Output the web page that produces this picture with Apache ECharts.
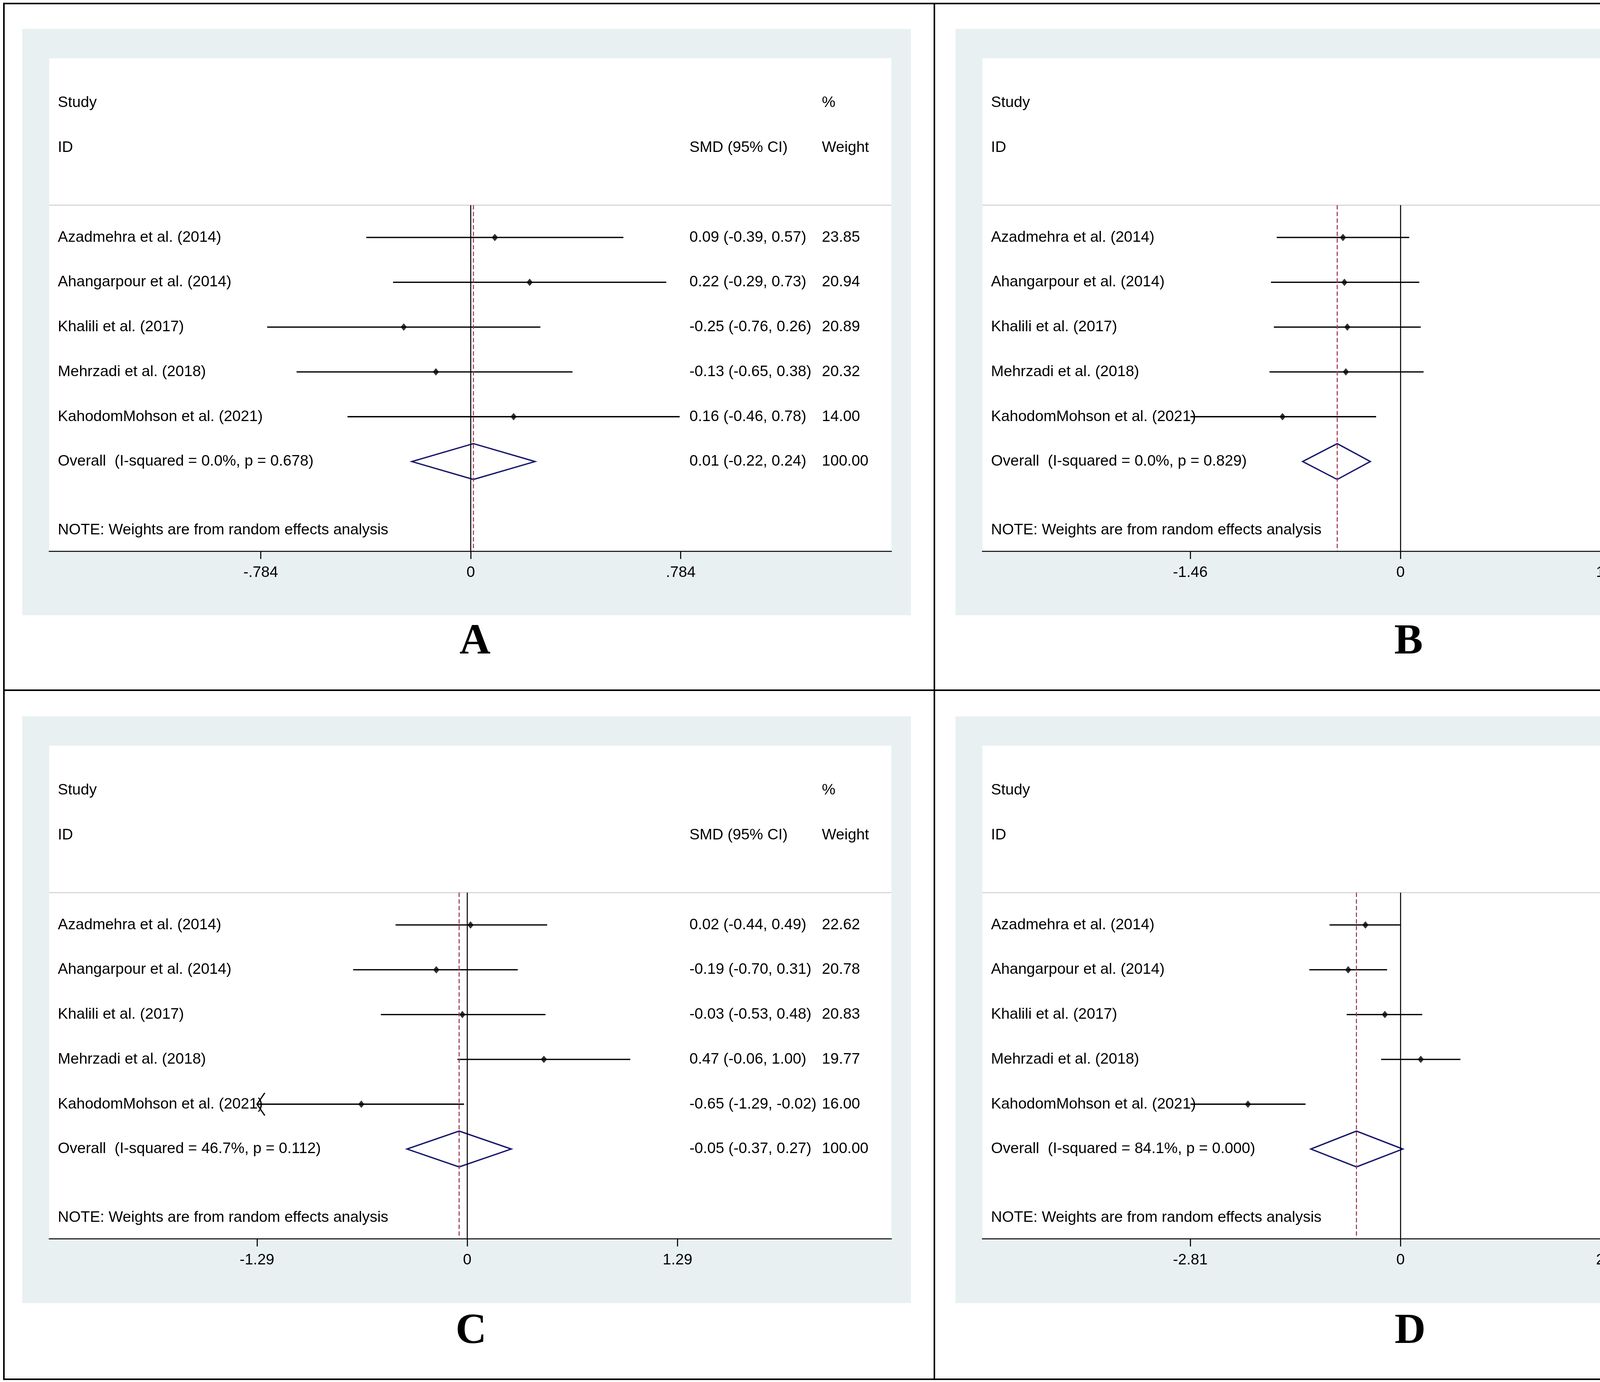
<!DOCTYPE html>
<html>
<head>
<meta charset="utf-8">
<script src="https://cdn.jsdelivr.net/npm/echarts@6/dist/echarts.min.js"></script>
<style>
  html, body { margin: 0; padding: 0; background: #fff; }
  #main { width: 4796px; height: 3538px; }
</style>
</head>
<body>
<div id="main"></div>
<script>
// studies are the same in all four panels
const studies = ["Azadmehra et al. (2014)", "Ahangarpour et al. (2014)", "Khalili et al. (2017)",
                 "Mehrzadi et al. (2018)", "KahodomMohson et al. (2021)"];

// panel A
const estA = [0.09, 0.22, -0.25, -0.13, 0.16];
const loA = [-0.39, -0.29, -0.76, -0.65, -0.46];
const hiA = [0.57, 0.73, 0.26, 0.38, 0.78];
const wtA = [23.85, 20.94, 20.89, 20.32, 14.00];
const overallA = [0.01, -0.22, 0.24];
const hetA = ["0.0%", "0.678"];
const tickA = 0.784;
const tickLabelsA = ["-.784", "0", ".784"];
const arrowA = [0, 0, 0, 0, 0];

// panel B
const estB = [-0.40, -0.39, -0.37, -0.38, -0.82];
const loB = [-0.86, -0.90, -0.88, -0.91, -1.46];
const hiB = [0.06, 0.13, 0.14, 0.16, -0.17];
const wtB = [25.89, 21.01, 21.04, 18.93, 13.13];
const overallB = [-0.44, -0.68, -0.21];
const hetB = ["0.0%", "0.829"];
const tickB = 1.46;
const tickLabelsB = ["-1.46", "0", "1.46"];
const arrowB = [0, 0, 0, 0, 0];

// panel C
const estC = [0.02, -0.19, -0.03, 0.47, -0.65];
const loC = [-0.44, -0.70, -0.53, -0.06, -1.29];
const hiC = [0.49, 0.31, 0.48, 1.00, -0.02];
const wtC = [22.62, 20.78, 20.83, 19.77, 16.00];
const overallC = [-0.05, -0.37, 0.27];
const hetC = ["46.7%", "0.112"];
const tickC = 1.29;
const tickLabelsC = ["-1.29", "0", "1.29"];
const arrowC = [0, 0, 0, 0, 1];

// panel D
const estD = [-0.47, -0.70, -0.21, 0.27, -2.04];
const loD = [-0.95, -1.22, -0.72, -0.26, -2.81];
const hiD = [-0.00, -0.18, 0.29, 0.80, -1.27];
const wtD = [21.04, 20.48, 20.64, 20.42, 17.41];
const overallD = [-0.59, -1.20, 0.03];
const hetD = ["84.1%", "0.000"];
const tickD = 2.81;
const tickLabelsD = ["-2.81", "0", "2.81"];
const arrowD = [0, 0, 0, 0, 0];

const panelLetters = ["A", "B", "C", "D"];

// layout
const SANS = '"Liberation Sans", Arial, sans-serif';
const rowY = [7, 6, 5, 4, 3];
const SEP_Y = 7.72;
const NOTE_Y = 0.47;
const gridW = 2156, gridH = 1262;

// span: axis range in multiples of the tick value
const panels = [
    { left: 126, top: 149, span: [-2.007, 2.003], est: estA, lo: loA, hi: hiA, wt: wtA, overall: overallA, het: hetA, tick: tickA, labels: tickLabelsA, arrow: arrowA },
    { left: 2515, top: 149, span: [-1.989, 2.017], est: estB, lo: loB, hi: hiB, wt: wtB, overall: overallB, het: hetB, tick: tickB, labels: tickLabelsB, arrow: arrowB },
    { left: 126, top: 1909, span: [-1.988, 2.017], est: estC, lo: loC, hi: hiC, wt: wtC, overall: overallC, het: hetC, tick: tickC, labels: tickLabelsC, arrow: arrowC },
    { left: 2515, top: 1909, span: [-1.989, 2.017], est: estD, lo: loD, hi: hiD, wt: wtD, overall: overallD, het: hetD, tick: tickD, labels: tickLabelsD, arrow: arrowD },
];

function fmt(v) {
    return (Object.is(v, -0) ? "-" : "") + v.toFixed(2);
}
function ciText(e, l, h) {
    return fmt(e) + " (" + fmt(l) + ", " + fmt(h) + ")";
}

const grids = [], xAxes = [], yAxes = [], series = [];

panels.forEach((p, gi) => {
    grids.push({
        left: p.left, top: p.top, width: gridW, height: gridH,
        show: true, backgroundColor: "#fff", borderWidth: 0
    });
    const ticks = [-p.tick, 0, p.tick];
    xAxes.push({
        gridIndex: gi, type: "value",
        min: p.span[0] * p.tick, max: p.span[1] * p.tick,
        axisLine: { lineStyle: { color: "#000", width: 2.7 } },
        axisTick: { customValues: ticks, length: 20, lineStyle: { color: "#000", width: 2.7 } },
        axisLabel: {
            customValues: ticks, margin: 36, color: "#000", fontSize: 39, fontFamily: SANS,
            formatter: v => p.labels[ticks.findIndex(t => Math.abs(t - v) < 1e-9)]
        },
        splitLine: { show: false }
    });
    yAxes.push({ gridIndex: gi, type: "value", min: 0, max: 11, show: false });

    // header separator
    series.push({
        type: "custom", xAxisIndex: gi, yAxisIndex: gi, silent: true, z: 1,
        data: [[0, SEP_Y]],
        renderItem: (params, api) => {
            const cs = params.coordSys;
            const y = api.coord([0, api.value(1)])[1];
            return { type: "line", shape: { x1: cs.x, y1: y, x2: cs.x + cs.width, y2: y },
                     style: { stroke: "#c6c6c6", lineWidth: 2 } };
        }
    });

    // confidence intervals
    series.push({
        type: "custom", xAxisIndex: gi, yAxisIndex: gi, silent: true, z: 2,
        data: studies.map((s, i) => [p.lo[i], p.hi[i], rowY[i], p.arrow[i]]),
        renderItem: (params, api) => {
            const a = api.coord([api.value(0), api.value(2)]);
            const b = api.coord([api.value(1), api.value(2)]);
            const st = { stroke: "#000", lineWidth: 3.4, fill: "none" };
            const kids = [{ type: "line", shape: { x1: a[0], y1: a[1], x2: b[0], y2: b[1] }, style: st }];
            if (api.value(3)) {
                kids.push({ type: "polyline",
                            shape: { points: [[a[0] + 20, a[1] - 29], [a[0], a[1]], [a[0] + 20, a[1] + 29]] },
                            style: { stroke: "#000", lineWidth: 3.2, fill: "none" } });
            }
            return { type: "group", children: kids };
        }
    });

    // point estimates
    series.push({
        type: "scatter", xAxisIndex: gi, yAxisIndex: gi, silent: true, z: 4,
        symbol: "diamond", symbolSize: [16, 19],
        itemStyle: { color: "#000" },
        data: studies.map((s, i) => [p.est[i], rowY[i]])
    });

    // pooled estimate diamond
    series.push({
        type: "custom", xAxisIndex: gi, yAxisIndex: gi, silent: true, z: 3,
        data: [[p.overall[0], p.overall[1], p.overall[2], 2]],
        renderItem: (params, api) => {
            const e = api.value(0), l = api.value(1), h = api.value(2), y = api.value(3);
            const pts = [api.coord([l, y]), api.coord([e, y + 0.4]), api.coord([h, y]), api.coord([e, y - 0.4])];
            return { type: "polygon", shape: { points: pts },
                     style: { fill: "none", stroke: "#15156b", lineWidth: 3.4 } };
        }
    });

    // null line and pooled-estimate line
    series.push({
        type: "custom", xAxisIndex: gi, yAxisIndex: gi, silent: true, z: 5,
        data: [[0, SEP_Y], [p.overall[0], SEP_Y]],
        renderItem: (params, api) => {
            const top = api.coord([api.value(0), api.value(1)]);
            const bot = api.coord([api.value(0), 0]);
            const dashed = params.dataIndex === 1;
            return { type: "line", shape: { x1: top[0], y1: top[1], x2: bot[0], y2: bot[1] },
                     style: dashed ? { stroke: "#9b3a4c", lineWidth: 2.7, lineDash: [11, 6] }
                                   : { stroke: "#000", lineWidth: 2.6 } };
        }
    });

    // table text
    series.push({
        type: "custom", xAxisIndex: gi, yAxisIndex: gi, silent: true, z: 6,
        data: [[0, 0]],
        renderItem: (params, api) => {
            const cs = params.coordSys;
            const xs = { label: cs.x + 22, smd: cs.x + 1639, wt: cs.x + 1978 };
            const kids = [];
            const add = (col, yv, text) => kids.push({
                type: "text",
                style: { x: xs[col], y: api.coord([0, yv])[1], text: text, fill: "#000",
                         font: "39px " + SANS, align: "left", verticalAlign: "middle" }
            });
            add("label", 10, "Study");
            add("wt", 10, "%");
            add("label", 9, "ID");
            add("smd", 9, "SMD (95% CI)");
            add("wt", 9, "Weight");
            studies.forEach((s, i) => {
                add("label", rowY[i], s);
                add("smd", rowY[i], ciText(p.est[i], p.lo[i], p.hi[i]));
                add("wt", rowY[i], p.wt[i].toFixed(2));
            });
            add("label", 2, "Overall  (I-squared = " + p.het[0] + ", p = " + p.het[1] + ")");
            add("smd", 2, ciText(p.overall[0], p.overall[1], p.overall[2]));
            add("wt", 2, "100.00");
            add("label", NOTE_Y, "NOTE: Weights are from random effects analysis");
            return { type: "group", children: kids };
        }
    });
});

// panel backgrounds, letters and frame
const bgPanels = [[57, 74, 2275, 1501], [2446, 74, 2281, 1501], [57, 1834, 2275, 1502], [2446, 1834, 2281, 1502]];
const letterPos = [[1216, 1645], [3606, 1645], [1206, 3410], [3610, 3410]];
const graphics = [];
bgPanels.forEach(r => graphics.push({
    type: "rect", z: -10, shape: { x: r[0], y: r[1], width: r[2], height: r[3] },
    style: { fill: "#e8f0f2" }, silent: true
}));
letterPos.forEach((pt, i) => graphics.push({
    type: "text", x: pt[0], y: pt[1], silent: true,
    style: { text: panelLetters[i], font: 'bold 110px "Liberation Serif", "Times New Roman", serif',
             fill: "#000", align: "center", verticalAlign: "middle" }
}));
graphics.push({ type: "rect", silent: true, shape: { x: 10, y: 9, width: 4779, height: 3522 },
                style: { fill: "none", stroke: "#000", lineWidth: 4 } });
graphics.push({ type: "line", silent: true, shape: { x1: 2392, y1: 9, x2: 2392, y2: 3531 },
                style: { stroke: "#000", lineWidth: 4 } });
graphics.push({ type: "line", silent: true, shape: { x1: 10, y1: 1767, x2: 4789, y2: 1767 },
                style: { stroke: "#000", lineWidth: 4 } });

const chart = echarts.init(document.getElementById("main"));
chart.setOption({
    animation: false,
    backgroundColor: "#fff",
    grid: grids,
    xAxis: xAxes,
    yAxis: yAxes,
    graphic: graphics,
    series: series
});
</script>
</body>
</html>
